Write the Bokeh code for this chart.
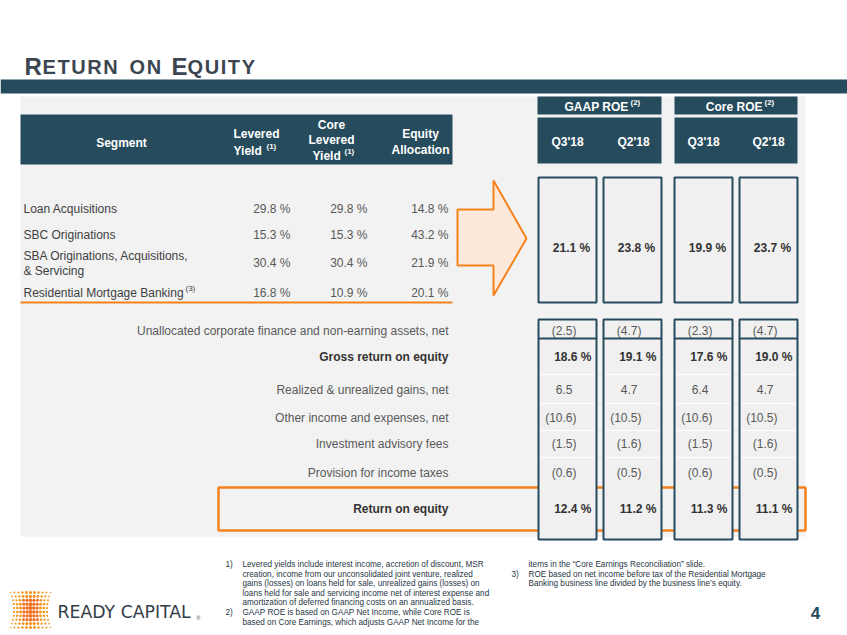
from bokeh.plotting import figure
from bokeh.models import Range1d
from bokeh.core.properties import value
from bokeh.embed import file_html
from bokeh.resources import INLINE
import numpy as np

# ---------------- data ----------------
title_big = ["R", "E"]
title_small = ["ETURN", "ON", "QUITY"]

seg_headers = ["Segment", "Levered\nYield", "Core\nLevered\nYield", "Equity\nAllocation"]
segments = ["Loan Acquisitions", "SBC Originations",
            "SBA Originations, Acquisitions,\n& Servicing", "Residential Mortgage Banking"]
levered_yield = [29.8, 15.3, 30.4, 16.8]
core_levered_yield = [29.8, 15.3, 30.4, 10.9]
equity_allocation = [14.8, 43.2, 21.9, 20.1]

roe_groups = ["GAAP ROE", "Core ROE"]
roe_periods = ["Q3'18", "Q2'18", "Q3'18", "Q2'18"]
segment_roe = [21.1, 23.8, 19.9, 23.7]

bridge_labels = ["Unallocated corporate finance and non-earning assets, net",
                 "Gross return on equity",
                 "Realized & unrealized gains, net",
                 "Other income and expenses, net",
                 "Investment advisory fees",
                 "Provision for income taxes",
                 "Return on equity"]
bridge_is_total = [False, True, False, False, False, False, True]
gaap_q3 = [-2.5, 18.6, 6.5, -10.6, -1.5, -0.6, 12.4]
gaap_q2 = [-4.7, 19.1, 4.7, -10.5, -1.6, -0.5, 11.2]
core_q3 = [-2.3, 17.6, 6.4, -10.6, -1.5, -0.6, 11.3]
core_q2 = [-4.7, 19.0, 4.7, -10.5, -1.6, -0.5, 11.1]
bridge_cols = [gaap_q3, gaap_q2, core_q3, core_q2]

footnotes_left = [
    ("1)", "Levered yields include interest income, accretion of discount, MSR"),
    ("", "creation, income from our unconsolidated joint venture, realized"),
    ("", "gains (losses) on loans held for sale, unrealized gains (losses) on"),
    ("", "loans held for sale and servicing income net of interest expense and"),
    ("", "amortization of deferred financing costs on an annualized basis."),
    ("2)", "GAAP ROE is based on GAAP Net Income, while Core ROE is"),
    ("", "based on Core Earnings, which adjusts GAAP Net Income for the"),
]
footnotes_right = [
    ("", "items in the \u201cCore Earnings Reconciliation\u201d slide."),
    ("3)", "ROE based on net income before tax of the Residential Mortgage"),
    ("", "Banking business line divided by the business line\u2019s equity."),
]
page_number = "4"
brand = "READY CAPITAL"

# ---------------- style ----------------
TEAL = "#264b5c"
ORANGE = "#f5821f"
PANEL = "#f2f2f2"
FONT = value("Liberation Sans")

p = figure(width=847, height=635, x_range=Range1d(0, 847), y_range=Range1d(635, 0),
           x_axis_type=None, y_axis_type=None, toolbar_location=None,
           output_backend="svg", min_border=0, outline_line_color=None,
           background_fill_color="white", border_fill_color="white")


def txt(x, y, s, size, color, bold=False, align="left", baseline="middle", font=FONT):
    p.text(x=[x], y=[y], text=[s], text_font=font, text_font_size=f"{size}px",
           text_color=color, text_font_style="bold" if bold else "normal",
           text_align=align, text_baseline=baseline)


def box(l, r, t, b, fill=None, line=None, lw=1.0):
    p.quad(left=[l], right=[r], top=[t], bottom=[b],
           fill_color=fill, fill_alpha=1 if fill else 0,
           line_color=line, line_width=lw, line_alpha=1 if line else 0)


def fmt(v, pct, sep=" "):
    if pct:
        return f"{v:.1f}{sep}%"
    if v < 0:
        return f"({abs(v):.1f})"
    return f"{v:.1f}"


# ---------------- title (small caps, tracked) ----------------
ARIAL_B = {"R": .722, "E": .667, "T": .611, "U": .722, "N": .722, "O": .778,
           "Q": .778, "I": .278, "Y": .667}
TCOL = "#3b4650"


def tracked(x0, word, size, track):
    x = x0
    for ch in word:
        txt(x, 66, ch, size, TCOL, bold=True, baseline="alphabetic")
        x += ARIAL_B[ch] * size + track


txt(24, 66, title_big[0], 24, TCOL, bold=True, baseline="alphabetic")
tracked(42, title_small[0], 20, 1.6)
tracked(129, title_small[1], 20, 1.6)
txt(171, 66, title_big[1], 24, TCOL, bold=True, baseline="alphabetic")
tracked(187, title_small[2], 20, 1.6)
box(0, 847, 79, 93, fill=TEAL)

# grey panel
box(20, 805, 96, 536, fill=PANEL)

# ---------------- left header ----------------
box(20, 452, 114, 164, fill=TEAL)
txt(121, 142, seg_headers[0], 12, "white", bold=True, align="center")
lv = seg_headers[1].split("\n")
txt(256, 133, lv[0], 12, "white", bold=True, align="center")
txt(233, 150, lv[1], 12, "white", bold=True)
txt(266, 146, "(1)", 8, "white", bold=True)
cl = seg_headers[2].split("\n")
txt(331, 124, cl[0], 12, "white", bold=True, align="center")
txt(331, 139, cl[1], 12, "white", bold=True, align="center")
txt(312, 155, cl[2], 12, "white", bold=True)
txt(344, 151, "(1)", 8, "white", bold=True)
ea = seg_headers[3].split("\n")
txt(420, 133, ea[0], 12, "white", bold=True, align="center")
txt(420, 149, ea[1], 12, "white", bold=True, align="center")

# ---------------- segment rows ----------------
row_y = [208, 234, 262, 292]
val_right = [290, 367, 448]
for i, seg in enumerate(segments):
    lines = seg.split("\n")
    if len(lines) == 1:
        txt(23, row_y[i], lines[0], 12, "#404040")
    else:
        txt(23, row_y[i] - 7, lines[0], 12, "#404040")
        txt(23, row_y[i] + 8, lines[1], 12, "#404040")
    for c, arr in enumerate([levered_yield, core_levered_yield, equity_allocation]):
        txt(val_right[c], row_y[i], fmt(arr[i], True), 12, "#595959", align="right")
txt(185, 288, "(3)", 8, "#404040")
p.line(x=[20, 452], y=[302, 302], line_color=ORANGE, line_width=2)

# arrow
p.patch(x=[457, 493, 493, 526, 493, 493, 457], y=[209, 209, 180, 238, 295, 265, 265],
        fill_color="#fde8da", line_color=ORANGE, line_width=2)

# ---------------- right headers ----------------
grp_l = [537, 674]
grp_r = [661, 797]
grp_text_r = [628, 762]
for g, name in enumerate(roe_groups):
    box(grp_l[g], grp_r[g], 96, 114, fill=TEAL)
    box(grp_l[g], grp_r[g], 117, 163, fill=TEAL)
    txt(grp_text_r[g], 106, name, 12, "white", bold=True, align="right")
    txt(grp_text_r[g] + 2, 102, "(2)", 8, "white", bold=True)
col_l = [538, 603, 674, 739]
col_w = 58
per_x = [567, 633, 703, 768]
for k, per in enumerate(roe_periods):
    txt(per_x[k], 141, per, 12, "white", bold=True, align="center")

# segment ROE boxes
for k in range(4):
    box(col_l[k], col_l[k] + col_w, 177, 302, fill="#f0f0f0", line=TEAL, lw=2)
    txt(col_l[k] + col_w - 3, 247, fmt(segment_roe[k], True, "  "), 12, "#333333",
        bold=True, align="right")

# ---------------- bridge section ----------------
bridge_y = [330, 356, 389, 417, 443, 472, 508]
box(218, 805, 487, 530, line=ORANGE, lw=2.5)
for k in range(4):
    l = col_l[k]
    box(l, l + col_w, 319, 539, fill="#f0f0f0", line=TEAL, lw=2)
    for sy in [374, 403, 430, 457]:
        p.line(x=[l + 2, l + col_w - 2], y=[sy, sy], line_color="white", line_width=1)
    p.line(x=[l, l + col_w], y=[338, 338], line_color=TEAL, line_width=2)
    for i, v in enumerate(bridge_cols[k]):
        if bridge_is_total[i]:
            txt(l + 53, bridge_y[i], fmt(v, True), 12, "#333333", bold=True, align="right")
        elif v < 0:
            txt(l + 38, bridge_y[i], fmt(v, False), 12, "#595959", align="right")
        else:
            txt(l + 34, bridge_y[i], fmt(v, False), 12, "#595959", align="right")
for i, lab in enumerate(bridge_labels):
    if bridge_is_total[i]:
        txt(448, bridge_y[i], lab, 12, "#333333", bold=True, align="right")
    else:
        txt(448, bridge_y[i], lab, 12, "#595959", align="right")

# ---------------- footnotes ----------------
FN = "#1f3644"
for j, (num, line) in enumerate(footnotes_left):
    y = 564 + j * 9.6
    if num:
        txt(225, y, num, 8.2, FN)
    txt(242, y, line, 8.2, FN)
for j, (num, line) in enumerate(footnotes_right):
    y = 564 + j * 9.6
    if num:
        txt(511, y, num, 8.2, FN)
    txt(528, y, line, 8.2, FN)

txt(815, 612, page_number, 17, TEAL, bold=True, align="center")

# ---------------- logo ----------------
rows = np.linspace(0, 1, 10)
xs, ys, ss, cs = [], [], [], []
for r in rows:
    yy = 592 + r * 35
    pinch = 1 - 0.18 * (1 - (2 * r - 1) ** 2)
    for c in np.linspace(-1, 1, 11):
        xs.append(30 + c * 20 * pinch)
        ys.append(yy)
        ss.append(4.0 - 1.6 * abs(c) - 0.8 * abs(2 * r - 1))
        cs.append("#f26f21" if abs(c) < 0.5 and abs(2 * r - 1) < 0.6 else "#f7941d")
p.scatter(x=xs, y=ys, size=ss, color=cs, line_color=None)
txt(57, 611, brand, 17.3, "#343c46", font=value("DejaVu Sans"))
txt(196, 617, "\u00ae", 5, "#343c46")

open("out.html", "w").write(file_html(p, INLINE))
